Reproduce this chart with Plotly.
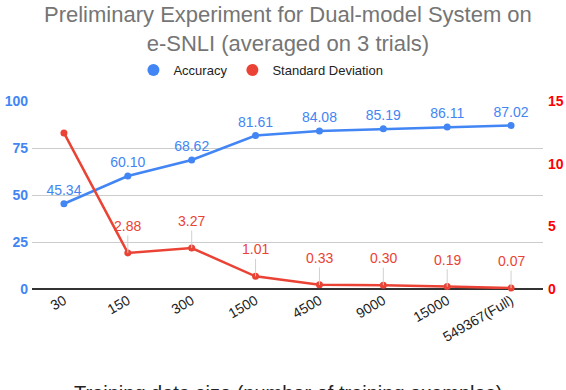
import plotly.graph_objects as go

# data
train_sizes = ["30", "150", "300", "1500", "4500", "9000", "15000", "549367(Full)"]
accuracy = [45.34, 60.10, 68.62, 81.61, 84.08, 85.19, 86.11, 87.02]
std_dev = [12.45, 2.88, 3.27, 1.01, 0.33, 0.30, 0.19, 0.07]
std_labels = ["", "2.88", "3.27", "1.01", "0.33", "0.30", "0.19", "0.07"]

blue = "#4285F4"
red = "#EA4335"
font_name = "Liberation Sans, Arial, sans-serif"

fig = go.Figure()

# main lines
fig.add_trace(go.Scatter(
    x=train_sizes, y=accuracy, mode="lines+markers+text",
    text=["%.2f" % v for v in accuracy], textposition="top center",
    textfont=dict(color=blue, size=14),
    line=dict(color=blue, width=2.5), marker=dict(size=7, color=blue),
    showlegend=False, cliponaxis=False))
fig.add_trace(go.Scatter(
    x=train_sizes, y=std_dev, mode="lines+markers", yaxis="y2",
    line=dict(color=red, width=2.5), marker=dict(size=7, color=red),
    showlegend=False, cliponaxis=False))

# legend entries as plain dots
fig.add_trace(go.Scatter(x=[None], y=[None], mode="markers", name="Accuracy",
                         marker=dict(size=12, color=blue)))
fig.add_trace(go.Scatter(x=[None], y=[None], mode="markers", name="Standard Deviation",
                         marker=dict(size=12, color=red), yaxis="y2"))

# red labels with leader lines (category index, numeric strings would be read as numbers)
for i, (yv, lab) in enumerate(zip(std_dev, std_labels)):
    if not lab:
        continue
    fig.add_annotation(x=i, y=yv, yref="y2", text=lab, showarrow=True,
                       arrowhead=0, arrowwidth=1, arrowcolor="#d0d0d0",
                       ax=0, ay=-27, font=dict(color=red, size=14))

# title as two centred lines
fig.add_annotation(x=0.5, xref="paper", y=1.535, yref="paper", yanchor="top",
                   text="Preliminary Experiment for Dual-model System on<br>e-SNLI (averaged on 3 trials)",
                   showarrow=False, font=dict(size=22, color="#757575"))

# axis title, mostly cut off at the bottom edge
fig.add_annotation(x=0.5, xref="paper", y=-0.485, yref="paper", yanchor="top",
                   text="Training data size (number of training examples)",
                   showarrow=False, font=dict(size=20, color="#222222"))

fig.update_layout(
    width=566, height=390,
    margin=dict(l=32, r=23, t=101, b=101, autoexpand=False),
    paper_bgcolor="white", plot_bgcolor="white",
    font=dict(family=font_name),
    legend=dict(orientation="h", x=0.448, xanchor="center", y=1.165, yanchor="middle",
                font=dict(size=13, color="#222222")),
    xaxis=dict(type="category", range=[-0.5, 7.5], tickangle=-30,
               tickfont=dict(size=14, color="#222222"), showgrid=False,
               ticks="", showline=False),
    yaxis=dict(range=[0, 100], dtick=25, gridcolor="#cccccc",
               tickfont=dict(size=14, color=blue), ticklabelstandoff=3,
               zeroline=True, zerolinecolor="#333333", zerolinewidth=2),
    yaxis2=dict(range=[0, 15], dtick=5, overlaying="y", side="right", showgrid=False,
                zeroline=False, tickfont=dict(size=14, color="#FF0000"), ticklabelstandoff=4),
)

fig.update_yaxes(tickprefix="<b>", ticksuffix="</b>")

# drop the default 8px page margin so the chart sits at the window corner
fig.write_html("out.html", config={"displayModeBar": False},
               post_script="document.body.style.margin='0';")
